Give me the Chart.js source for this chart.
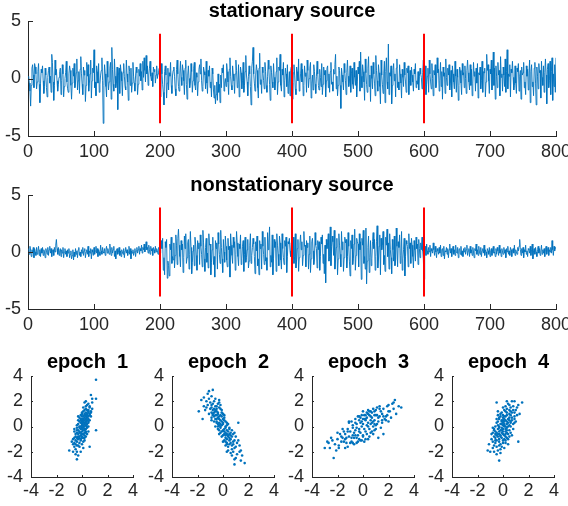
<!DOCTYPE html>
<html>
<head>
<meta charset="utf-8">
<script src="https://cdn.jsdelivr.net/npm/chart.js@4.4.1/dist/chart.umd.min.js"></script>
<style>
  html, body { margin: 0; padding: 0; background: #fff; }
  #fig { position: relative; width: 568px; height: 506px; overflow: hidden; background: #fff; }
  #fig canvas { position: absolute; }
</style>
</head>
<body>
<div id="fig">
  <canvas id="cStat" width="568" height="168" style="left:0px;top:0px"></canvas>
  <canvas id="cNon" width="568" height="172" style="left:0px;top:168px"></canvas>
  <canvas id="cE1" width="140" height="166" style="left:0px;top:340px"></canvas>
  <canvas id="cE2" width="140" height="166" style="left:141px;top:340px"></canvas>
  <canvas id="cE3" width="140" height="166" style="left:281px;top:340px"></canvas>
  <canvas id="cE4" width="140" height="166" style="left:421px;top:340px"></canvas>
</div>
<script>
// ---- data -------------------------------------------------------------

const seriesTitles = ['stationary source', 'nonstationary source'];
const epochTitles = ['  epoch  1', '  epoch  2', '  epoch  3', '  epoch  4'];

// sample boundaries between epochs and the vertical extent of their markers
const epochBounds = [200, 400, 600];
const boundSpan = [-3.9, 3.9];

const timeTicks = [0, 800, 100];   // min, max, step
const ampTicks = [-5, 5, 5];
const scatterTicks = [-4, 4, 2];

const stationary = [
  0.2,-0.4,-1.1,-2.4,-0.6,0.9,1.2,0.3,-0.8,1.3,1.0,0.4,-0.9,-0.3,0.6,1.3,-0.5,-2.1,-0.4,0.8,
  0.5,1.1,-0.2,-1.3,-0.7,0.9,0.3,-0.8,-1.6,0.1,0.7,1.0,-0.4,0.2,-1.2,2.1,1.4,-0.3,-1.9,-0.6,
  1.6,0.3,0.8,-0.2,-1.1,-0.5,0.1,0.6,0.9,-1.4,-0.2,1.2,0.4,-1.6,-0.7,0.0,0.5,1.5,-0.3,-0.9,
  -1.2,0.4,1.1,0.7,-0.6,-1.8,-0.4,0.9,0.2,1.3,-0.8,-0.3,0.5,1.7,-1.0,-0.2,0.6,-1.3,0.8,1.9,
  0.4,-0.5,-1.4,1.0,0.3,0.7,-2.0,-0.6,1.4,0.2,1.2,-1.1,-0.4,0.4,1.6,-1.7,-0.2,0.9,0.5,2.5,
  -0.8,-0.3,-1.5,1.1,0.6,-0.4,1.3,-1.2,-0.5,0.3,0.7,1.8,-0.2,-3.9,-0.6,1.2,0.4,-0.7,-1.6,1.5,
  0.1,-1.0,-0.3,0.9,1.4,-1.8,2.7,0.8,-0.5,-1.1,1.7,0.2,-0.8,-0.4,1.0,-2.7,0.3,0.9,-1.3,1.2,
  0.6,-0.2,-1.5,0.5,1.3,0.2,-0.7,-1.0,1.6,0.4,-0.3,-1.9,1.1,0.6,-0.6,0.9,-1.2,-0.4,1.4,0.2,
  -0.4,-1.1,0.3,1.0,0.5,-1.4,-0.5,0.8,0.2,1.3,-0.2,0.6,-1.0,1.5,0.1,1.8,0.7,-0.3,2.0,0.4,
  1.1,-0.6,0.3,0.9,1.5,0.2,-0.2,0.5,-0.7,1.0,0.6,0.8,-0.4,0.3,1.1,0.0,0.4,0.7,0.9,0.2,
  -1.6,1.3,0.4,-0.5,-1.2,-2.3,0.6,1.1,0.3,-1.7,-0.4,0.9,-1.0,0.5,0.2,1.4,-0.6,-1.3,0.3,0.7,
  1.0,0.2,-0.9,-1.5,0.8,1.6,0.4,-0.7,-1.1,0.4,1.5,0.1,-0.6,1.2,0.7,-0.2,-1.4,0.9,1.6,-0.5,
  -1.8,0.3,1.1,0.0,-0.8,-0.4,1.3,0.6,-1.2,-0.2,0.9,1.4,-0.6,-1.0,0.5,0.1,-1.5,-0.3,0.8,1.2,
  0.4,1.7,-0.2,-1.1,-0.7,1.0,0.6,0.3,-0.9,1.5,-0.4,-1.3,0.7,0.2,1.1,-0.8,-0.3,-1.6,0.9,0.4,
  -1.0,-1.7,-0.6,-2.2,-1.4,-0.3,-1.9,0.4,-1.2,-0.5,-2.1,0.3,-0.8,0.9,0.5,1.2,-1.1,-0.4,0.0,-0.7,
  1.3,0.6,-0.3,-1.4,0.8,1.8,0.2,-0.6,-1.0,1.1,0.4,-0.2,-1.3,0.4,1.6,0.7,-0.8,-0.5,1.2,-1.6,
  -0.4,1.0,0.5,-0.9,-0.2,1.4,-1.2,-0.6,0.6,2.0,0.3,-0.3,-1.5,0.2,1.1,0.4,-0.7,-2.3,0.9,1.5,
  2.7,0.4,-0.4,-1.1,0.3,1.2,0.7,-0.8,-1.7,0.9,2.2,-0.5,-0.1,-1.3,1.0,0.5,-0.2,-0.9,1.4,0.6,
  -0.6,-1.2,0.2,1.6,0.8,-0.5,-1.9,1.1,0.5,-0.3,-0.8,1.3,0.1,-1.0,-0.4,0.6,1.8,-1.4,-0.3,1.0,
  0.7,2.1,-0.6,-1.1,0.8,0.3,1.4,-1.6,-0.2,0.9,0.4,-0.7,1.2,-1.3,-0.4,0.6,-1.5,0.7,1.0,-0.4,
  -1.8,0.5,1.2,0.3,-0.9,-1.4,1.0,0.6,-0.2,1.7,-1.1,-0.4,0.4,1.3,-0.3,0.8,-1.5,-0.6,1.1,0.2,
  0.5,-1.2,1.6,0.7,-0.8,0.0,0.9,1.4,-1.7,-0.4,0.3,-1.0,1.2,0.6,-0.5,-1.3,0.2,1.5,0.4,-0.6,
  -1.0,0.8,0.1,-0.7,1.3,-1.4,-0.5,1.0,0.3,0.7,-1.6,-0.2,0.9,1.1,-0.8,0.4,-1.2,0.6,1.4,-0.5,
  -0.3,-1.1,0.8,0.4,1.2,2.1,-0.9,0.2,-1.5,-0.6,1.0,0.7,-0.6,-2.6,0.9,0.3,-0.3,-1.0,1.3,0.5,
  -0.2,-1.4,0.5,1.6,0.2,-0.7,-0.3,1.1,-1.2,0.4,0.9,-0.5,-0.9,1.4,0.1,-0.6,0.7,-1.6,-0.3,1.0,
  0.4,1.5,-1.1,2.3,0.2,-0.8,1.2,0.6,-0.3,-1.9,1.7,0.5,-0.5,-1.2,0.9,1.9,-0.7,0.3,-2.0,1.1,
  0.0,-0.9,1.4,0.4,-0.4,-1.5,2.0,0.7,-0.2,-1.1,1.2,0.5,-0.7,-2.2,1.6,0.3,-0.5,-1.3,0.4,1.5,
  -2.1,0.6,1.8,-0.3,-0.9,3.0,-1.4,0.5,0.2,1.1,-2.2,-0.6,0.7,1.3,-0.2,0.4,-1.6,0.9,1.7,-0.8,
  -0.3,-1.0,1.2,0.4,-0.4,-1.7,0.8,0.1,-0.7,1.4,0.3,-0.3,-1.2,0.9,0.5,1.1,-1.4,-0.2,0.7,-0.6,
  1.0,0.3,-0.3,-1.1,0.8,0.4,1.3,-0.8,-0.2,-0.5,0.6,-1.0,0.2,0.9,0.4,0.1,-0.9,0.5,1.6,0.3,
  -0.6,1.1,-1.4,-0.5,0.2,0.9,-1.2,1.6,0.4,-0.3,-0.9,1.3,0.0,-1.5,0.7,0.3,1.2,-0.8,-0.4,1.8,
  0.5,0.8,-1.1,-0.2,1.4,-0.7,0.6,-1.8,1.0,0.2,0.5,-1.3,1.7,0.1,-0.6,0.9,0.3,1.2,-1.0,-0.4,
  0.7,-1.6,1.1,0.4,-0.3,-0.9,1.5,0.2,-1.2,0.8,0.1,-1.9,-0.6,1.0,0.7,-0.4,-1.4,1.3,0.3,0.5,
  -0.8,1.1,0.0,-1.3,0.7,1.6,0.5,-0.3,-1.0,1.2,-0.6,0.8,-1.5,-0.4,1.4,0.2,0.6,-1.1,0.9,-0.4,
  1.3,-1.7,0.5,0.3,1.0,-0.9,-0.2,1.5,-1.2,0.6,0.5,0.9,-1.6,-0.3,2.1,0.7,1.2,-0.2,-1.3,0.8,
  0.4,1.6,-1.0,0.5,2.3,-0.6,0.9,-1.8,1.1,0.2,-0.8,1.4,0.3,0.7,-1.5,1.9,0.1,0.4,-1.1,1.0,
  0.3,-0.7,1.7,-1.2,0.6,2.5,-0.9,0.4,0.2,1.2,-1.6,0.8,0.5,1.5,0.1,-1.0,-0.6,1.1,-0.4,-1.3,
  0.9,0.6,1.3,-1.1,0.2,0.7,-1.8,1.0,0.3,0.5,1.4,-0.8,-0.3,-1.4,1.1,0.2,0.8,-1.0,0.4,1.6,
  -2.1,0.6,1.2,-0.7,-0.3,-1.5,0.9,1.4,-0.4,-2.3,1.0,0.2,-0.9,1.3,0.5,0.7,-1.7,1.5,0.1,-0.6,
  1.1,-1.2,0.5,1.7,0.3,-2.2,0.8,1.3,-0.8,-0.2,1.5,-1.4,0.6,1.8,-1.9,0.4,-0.7,1.2,-1.2,1.8
];

const nonstationary = [
  0.3,-0.2,0.5,0.1,-0.4,0.2,-0.1,0.4,-0.5,0.3,0.0,-0.3,0.4,-0.2,0.1,0.5,-0.3,0.2,-0.4,0.3,
  -0.1,0.4,-0.3,0.2,0.0,-0.5,0.3,0.1,-0.2,0.4,-0.3,0.2,0.5,-0.1,0.3,-0.4,0.1,0.2,-0.3,0.4,
  0.0,0.6,1.1,0.3,-0.2,0.4,-0.3,0.1,0.3,-0.4,0.2,-0.1,0.4,-0.5,0.0,0.3,-0.2,0.1,-0.4,0.2,
  -0.1,0.3,-0.5,-0.2,0.1,-0.6,-0.3,0.2,-0.7,0.0,-0.4,0.3,-0.2,0.1,-0.5,0.2,0.4,-0.3,0.0,-0.4,
  0.2,-0.1,0.4,-0.3,0.1,0.3,-0.5,0.0,0.2,-0.2,0.5,-0.4,0.1,-0.1,0.3,-0.6,0.2,0.0,-0.3,0.4,
  -0.2,0.1,0.5,-0.1,0.3,-0.4,0.2,0.0,-0.3,0.6,0.1,-0.2,0.4,0.0,-0.1,0.3,-0.3,0.2,0.5,-0.1,
  0.3,0.0,-0.2,0.7,0.1,-0.3,0.4,-0.1,0.2,0.5,-0.4,0.1,-0.6,0.2,0.3,-0.2,0.0,0.4,-0.3,0.1,
  -0.4,0.2,0.0,-0.2,0.3,-0.5,0.1,0.4,-0.1,0.2,-0.3,0.0,0.5,-0.2,0.3,-0.6,0.1,-0.1,0.2,-0.3,
  0.0,0.3,-0.4,0.1,0.4,-0.1,0.2,0.5,-0.2,0.3,0.1,0.6,-0.1,0.4,0.2,0.7,0.0,0.3,0.9,0.2,
  0.4,-0.1,0.6,0.2,-0.2,0.5,0.1,0.3,-0.3,0.4,0.2,-0.1,0.5,0.0,0.3,0.1,-0.2,0.4,0.2,-0.1,
  0.4,1.0,0.3,1.2,-1.6,-0.5,-2.0,0.9,0.4,1.1,-2.3,-0.8,-1.2,-2.1,0.7,0.2,1.3,-1.0,-0.4,-0.7,
  0.8,-1.4,-0.3,1.5,0.6,-1.1,1.2,2.0,0.6,-0.4,-1.3,1.0,0.2,0.7,-1.8,-0.5,1.4,0.3,1.6,-1.0,
  -0.5,0.8,1.1,-1.5,-0.2,1.8,0.4,-1.9,-0.9,0.1,0.6,-1.2,1.3,0.7,-0.3,-1.6,1.0,0.3,0.8,-1.1,
  1.5,0.5,-0.2,-1.3,1.9,0.8,-0.6,-1.7,0.4,1.2,-0.9,-0.1,-1.4,1.6,0.6,0.7,-2.0,-0.9,0.2,1.3,
  -1.1,-0.4,-2.2,1.0,0.3,0.8,-1.5,1.7,0.7,-0.2,-1.0,1.9,0.4,-0.6,-1.8,1.1,0.0,-0.9,1.4,0.5,
  -0.7,-1.3,1.2,0.2,0.5,-2.2,1.6,0.6,-0.3,-1.0,1.3,0.4,0.9,-1.6,-0.2,1.8,0.8,-0.4,-1.2,0.7,
  0.3,1.5,-1.1,-0.6,0.5,1.0,-1.7,-0.2,1.3,-0.9,-0.5,0.2,1.1,-1.4,-0.8,0.6,1.6,-1.0,-0.3,0.4,
  1.2,0.7,-0.4,-1.9,0.9,0.1,1.4,-1.2,-0.6,-2.0,1.0,0.3,0.7,-1.5,1.8,0.5,-0.2,-1.1,1.3,-0.8,
  -0.5,-1.6,1.7,0.2,0.8,2.2,-1.3,-0.3,-0.9,1.5,-2.0,-0.6,1.1,0.4,0.9,-1.7,1.6,0.6,-0.2,-1.2,
  1.4,0.8,-0.7,-1.5,1.6,0.3,-0.5,-1.1,1.0,0.5,1.3,-1.8,-0.4,0.9,0.7,1.2,0.1,-0.4,0.8,0.3,
  -0.6,1.3,-1.0,-0.4,1.6,-1.4,-0.7,0.3,1.1,-1.7,-0.5,0.8,1.5,0.2,0.9,-1.2,-0.3,1.8,0.5,0.6,
  -1.3,1.0,0.4,0.8,-1.5,-0.2,1.4,-1.8,-0.6,0.9,1.2,0.1,-1.1,-0.7,1.7,0.6,0.3,-1.4,1.0,0.2,
  0.9,-1.6,-0.4,1.3,0.7,1.5,-1.0,-0.2,-1.9,0.6,-2.7,1.1,0.3,0.8,1.6,-0.8,-0.4,2.2,-1.2,0.5,
  1.4,0.9,-0.3,1.9,-1.5,-0.7,0.4,1.2,-2.0,-0.6,1.6,0.6,-0.2,-1.3,1.8,0.2,0.9,-1.7,-0.5,1.3,
  0.8,1.1,-1.4,-0.4,1.7,0.5,-0.8,-2.1,1.0,0.3,1.5,-1.1,-0.6,0.7,2.0,-1.6,-0.3,1.2,0.9,0.7,
  -1.3,1.6,0.2,0.9,-2.4,1.2,0.6,1.9,-1.0,-0.4,-1.5,2.1,-2.8,-0.8,0.4,1.4,-1.8,-0.5,1.0,-1.2,
  -0.6,0.9,1.7,0.3,1.1,-1.6,-0.4,0.9,2.3,-1.4,-0.7,0.5,1.5,-2.0,1.2,0.2,0.6,1.8,-1.1,-0.3,
  -1.7,1.3,0.6,2.0,-0.4,0.8,-1.5,1.6,0.2,-0.5,-1.9,1.1,0.2,-0.8,1.4,-1.2,-0.7,2.1,0.5,-1.3,
  0.9,0.4,1.5,-1.0,-0.3,1.8,-1.6,-0.6,0.2,1.2,-2.1,-0.4,1.0,0.7,0.5,-1.3,1.6,0.3,0.8,-1.0,
  1.2,0.6,-0.4,-1.4,1.0,0.2,-0.8,1.3,0.3,0.7,-1.1,1.1,0.3,-0.5,0.8,0.2,1.3,0.1,-0.6,-2.4,
  0.2,0.5,-0.3,0.7,0.1,-0.2,0.4,0.0,0.6,-0.4,0.3,0.1,-0.1,0.8,0.2,-0.3,0.5,0.0,-0.5,0.3,
  0.1,-0.2,0.4,-0.1,0.6,-0.4,0.2,0.3,-0.3,0.5,-0.6,0.1,0.0,0.4,-0.2,0.3,-0.5,0.2,0.7,-0.1,
  0.3,-0.4,0.1,0.5,-0.2,0.2,-0.3,0.6,0.0,-0.1,0.4,-0.5,0.2,0.3,-0.2,0.5,-0.3,0.1,-0.4,0.3,
  0.0,0.4,-0.2,0.2,0.6,-0.3,0.1,0.3,-0.4,0.5,-0.1,0.2,-0.3,0.4,0.0,-0.5,0.3,0.1,0.7,-0.2,
  0.2,-0.3,0.5,0.0,-0.2,0.4,-0.4,0.1,0.3,-0.1,0.6,-0.3,0.2,0.0,-0.5,0.3,0.1,-0.2,0.4,-0.4,
  0.1,0.3,-0.3,0.2,0.5,-0.1,0.0,-0.4,0.3,-0.2,0.4,0.1,-0.3,0.6,-0.1,0.2,-0.4,0.3,0.0,-0.2,
  0.4,-0.1,0.2,-0.5,0.3,0.0,0.5,-0.2,0.1,-0.3,0.4,0.2,-0.4,0.1,0.3,-0.1,0.6,-0.3,0.2,0.0,
  -0.2,0.4,0.1,0.5,1.1,0.2,-0.3,0.3,-0.1,0.4,-0.5,0.2,0.0,0.6,-0.2,0.1,-0.4,0.3,0.2,-0.1,
  0.5,-0.3,0.2,0.7,-0.6,0.1,0.3,-0.2,0.4,0.0,-0.4,0.2,0.5,-0.1,0.3,-0.3,0.1,0.6,-0.2,0.2,
  -0.1,0.3,-0.4,0.2,0.5,-0.2,0.1,0.4,-0.3,0.2,0.0,0.4,-0.1,1.0,0.2,-0.3,0.5,0.1,0.4,0.3
];

// observed pairs within each epoch
const epoch1 = [
  [0.1,0.3],[-0.2,-0.5],[0.3,0.9],[0.0,0.1],[-0.4,-1.2],[0.5,1.1],[0.2,-0.3],[-0.1,0.6],[0.4,0.2],[-0.3,-0.8],
  [0.6,1.5],[0.1,-0.9],[-0.5,-0.6],[0.2,1.0],[-0.1,-0.2],[0.3,0.4],[0.0,-1.4],[0.7,2.5],[-0.6,-1.6],[0.2,0.7],
  [1.1,3.7],[0.8,2.2],[-0.2,0.4],[0.4,1.3],[-0.4,-2.0],[0.1,0.0],[0.3,-0.5],[-0.3,0.2],[0.5,0.6],[-0.7,-1.0],
  [0.0,0.8],[0.2,-1.1],[-0.1,-0.7],[0.6,0.9],[-0.5,-1.8],[0.3,1.6],[0.1,0.5],[-0.2,-1.3],[0.4,-0.1],[0.0,-0.4],
  [-0.8,-1.2],[0.2,1.9],[0.5,0.3],[-0.3,-0.3],[0.1,1.2],[-0.4,-2.6],[0.3,0.1],[0.0,0.4],[-0.1,-1.0],[0.7,1.2],
  [1.1,2.2],[-1.0,-1.9],[1.1,-0.3],[0.4,0.7],[-0.2,-0.1],[0.2,0.2],[-0.6,-0.4],[0.1,-0.6],[0.5,1.8],[-0.3,-1.5],
  [0.0,1.1],[0.3,-0.8],[-0.4,0.1],[0.6,0.5],[-0.1,0.9],[0.2,-0.2],[-0.5,-1.1],[0.4,1.0],[0.0,-0.9],[-0.2,0.0],
  [0.8,1.4],[-0.3,-2.3],[0.1,0.6],[0.3,1.4],[-0.6,-0.9],[0.2,-0.7],[-0.1,0.3],[0.5,-0.4],[0.0,0.2],[-0.4,-0.5],
  [0.3,2.0],[0.1,-1.7],[-0.2,0.7],[0.6,1.0],[-0.7,-1.4],[0.2,0.0],[0.0,-0.1],[0.4,0.5],[-0.3,0.5],[0.1,1.5],
  [-0.5,-2.2],[0.3,-0.2],[0.5,1.3],[-0.1,-0.5],[0.2,0.9],[-0.4,-0.9],[0.0,0.6],[0.7,0.8],[-0.2,-1.6],[0.1,-0.3],
  [0.4,1.7],[-0.3,-0.6],[0.2,0.3],[0.6,-1.6],[-0.6,-0.2],[0.0,-0.6],[0.3,0.8],[-0.1,0.0],[0.5,0.0],[-0.4,-1.5],
  [0.2,1.3],[0.1,-1.2],[-0.2,-0.9],[0.4,-0.6],[0.0,1.0],[-0.5,-0.8],[0.3,0.3],[0.8,1.9],[-0.3,-1.0],[0.1,0.1],
  [-0.1,-2.0],[0.2,-0.9],[0.5,0.8],[-0.6,-1.3],[0.0,0.3],[0.3,1.1],[-0.2,-0.4],[0.4,0.0],[0.1,0.8],[-0.4,-0.1],
  [0.6,1.6],[-0.1,-1.1],[0.2,0.5],[-0.3,0.8],[0.0,-0.2],[0.5,0.4],[-0.7,-2.0],[0.3,-0.4],[0.1,0.4],[-0.2,-0.8],
  [0.4,0.9],[0.0,-0.8],[-0.4,-0.3],[0.7,1.1],[0.2,-0.5],[-0.1,0.5],[0.3,0.6],[-0.5,-1.4],[0.1,-0.1],[0.5,1.2]
];

const epoch2 = [
  [-0.3,0.6],[0.1,-0.2],[-0.6,1.2],[0.4,-0.8],[-0.2,0.9],[0.0,0.3],[-0.9,1.5],[0.6,-1.0],[-0.4,0.2],[0.2,-0.5],
  [-1.9,1.2],[-0.8,2.9],[-1.1,2.8],[-1.5,2.3],[-1.7,2.1],[0.9,-3.0],[1.7,-2.9],[1.5,-2.3],[1.4,-1.9],[-1.6,0.6],
  [1.2,0.3],[-0.5,1.4],[0.3,0.1],[-0.1,-0.4],[0.7,-1.5],[-0.7,0.8],[0.2,0.4],[-0.3,1.9],[0.5,-0.2],[-1.2,1.7],
  [0.0,-0.7],[-0.4,1.1],[0.8,-1.2],[-0.2,0.0],[-0.9,0.7],[0.4,-1.9],[-0.6,2.2],[0.1,0.7],[1.0,-0.8],[-0.3,-0.3],
  [-1.3,2.0],[0.6,-0.5],[-0.1,1.3],[0.3,-1.3],[-0.8,1.0],[0.9,-1.7],[-0.5,0.4],[0.2,-0.9],[-1.0,1.9],[0.5,-1.4],
  [-0.2,0.5],[0.0,1.0],[-0.7,1.4],[0.7,-0.3],[-0.4,-0.2],[1.1,-2.2],[-1.4,1.3],[0.3,-0.6],[-0.6,0.6],[0.1,-1.1],
  [-0.3,1.5],[0.8,-0.6],[-0.9,2.4],[0.4,0.2],[-0.1,-0.8],[-0.5,0.9],[1.3,-1.5],[-0.2,1.7],[0.2,-0.1],[-1.1,1.0],
  [0.6,-2.1],[-0.4,0.7],[0.0,0.2],[-0.8,1.8],[0.5,-0.9],[-0.3,0.3],[0.9,-1.1],[-0.6,1.6],[0.3,-0.3],[-1.2,2.6],
  [0.1,0.5],[-0.2,-0.5],[0.7,-1.8],[-0.5,1.2],[1.0,-2.5],[-0.7,0.4],[0.2,-1.5],[-0.1,0.8],[0.4,-0.4],[-0.9,1.1],
  [0.6,-1.3],[-0.4,1.8],[0.0,-0.3],[-1.5,1.6],[0.8,-2.0],[-0.2,0.2],[0.3,-1.0],[-0.6,0.0],[1.2,-1.1],[-0.3,2.1],
  [0.1,-0.6],[-0.8,0.9],[0.5,-0.1],[-0.1,1.1],[0.9,-2.6],[-0.5,0.6],[0.2,0.0],[-1.0,1.4],[0.4,-1.6],[-0.3,0.8],
  [0.7,-0.8],[-0.7,2.0],[0.0,0.6],[0.3,-2.0],[-0.4,0.0],[1.1,-1.3],[-0.9,0.5],[0.2,-0.7],[-0.2,1.4],[0.5,-1.1],
  [-1.3,1.5],[0.6,-0.7],[-0.1,0.4],[-0.6,1.3],[1.4,-2.7],[0.1,-0.4],[-0.5,1.6],[0.8,-1.4],[-0.3,0.1],[0.0,-1.2],
  [-0.8,1.3],[0.4,-0.7],[-1.1,2.2],[0.3,0.3],[-0.2,-0.1],[0.7,-2.3],[-0.4,1.0],[0.9,-0.5],[-0.7,1.1],[0.2,-1.2],
  [-0.5,0.3],[1.0,-1.6],[-0.1,0.1],[-0.9,1.7],[0.5,-0.6],[0.1,0.9],[-0.3,-0.6],[1.3,-2.0],[-0.6,0.9],[0.3,-1.4]
];

const epoch3 = [
  [0.2,0.6],[-0.5,-0.9],[1.0,0.1],[-1.2,-0.2],[0.6,1.2],[-0.3,0.5],[1.5,0.3],[-0.8,-1.3],[0.0,-0.7],[2.0,1.2],
  [-2.3,-2.5],[2.5,2.1],[3.0,1.5],[-3.0,-1.7],[-2.8,-1.2],[-2.5,-0.9],[2.4,1.4],[1.6,-0.6],[1.2,-0.9],[2.0,1.7],
  [-1.5,-0.4],[0.4,1.0],[-0.1,-1.1],[0.9,0.2],[-0.6,0.6],[1.3,1.4],[-1.9,-1.5],[0.3,-0.6],[0.7,1.1],[-0.4,-1.2],
  [1.8,0.5],[-1.1,0.3],[0.1,0.9],[-0.7,-0.9],[1.1,1.5],[-2.0,-0.5],[0.5,-0.8],[-0.2,0.7],[2.2,0.7],[-1.4,-1.7],
  [0.8,0.0],[-0.9,0.4],[0.0,1.2],[1.4,-0.1],[-1.7,-1.2],[0.6,-0.5],[-0.3,-1.0],[1.9,1.6],[-1.2,-1.6],[0.2,0.5],
  [-0.6,-0.3],[1.0,1.3],[-2.2,-1.4],[0.4,-1.0],[-0.1,0.4],[1.6,1.4],[-0.8,-0.1],[0.9,0.9],[-1.6,-0.2],[0.3,1.1],
  [2.6,1.0],[-0.5,-1.3],[0.7,-0.4],[-1.3,-0.9],[0.1,-0.2],[1.2,0.7],[-2.6,-1.7],[0.5,1.2],[-0.2,-0.5],[1.7,0.6],
  [-1.0,-1.3],[0.0,0.2],[0.8,1.4],[-0.4,0.8],[2.1,1.2],[-1.8,-0.6],[0.6,0.5],[-0.7,-1.4],[1.3,0.8],[-0.1,0.9],
  [-1.4,-0.6],[0.9,-0.3],[0.2,-1.0],[2.3,1.8],[-0.9,-0.9],[0.4,0.3],[-2.1,-1.9],[1.1,0.2],[-0.3,-0.2],[0.7,0.7],
  [-1.1,-0.8],[1.5,1.0],[0.0,-0.8],[-0.6,0.3],[2.8,1.6],[-1.5,-1.2],[0.3,0.7],[-0.8,0.1],[1.0,-0.2],[-2.4,-1.1],
  [0.5,0.9],[-0.2,-1.1],[1.4,1.2],[-1.2,-0.4],[0.1,0.6],[0.8,-0.6],[-0.5,0.2],[1.8,0.8],[-1.7,-0.8],[0.6,0.8],
  [-0.3,0.8],[1.2,0.4],[-1.9,-1.7],[0.2,-0.4],[0.9,1.2],[-0.7,-0.5],[2.0,0.4],[-1.0,-0.4],[0.4,1.3],[-0.1,0.0],
  [1.6,0.8],[-2.7,-1.3],[0.7,0.3],[-0.4,-0.7],[1.1,0.9],[-1.3,-1.3],[0.0,0.6],[2.4,1.9],[-0.9,-1.2],[0.5,-0.2],
  [-1.6,-0.9],[0.3,0.1],[1.3,1.6],[-0.6,-0.7],[0.8,0.4],[-1.1,0.4],[0.1,-1.2],[1.9,0.9],[-0.2,0.3],[-2.0,-1.0],
  [0.6,0.2],[-0.5,-0.1],[1.0,0.9],[-1.4,-1.0],[0.2,0.9],[0.9,0.5],[-0.8,-0.7],[1.5,0.5],[-0.3,-0.4],[0.4,0.0]
];

const epoch4 = [
  [0.1,0.2],[-0.3,-0.6],[0.5,1.0],[-0.1,0.4],[0.2,-0.8],[-0.5,-1.1],[0.6,0.3],[0.0,-0.2],[0.3,1.4],[-0.4,0.1],
  [1.5,1.9],[-0.3,-2.7],[-1.2,-1.9],[-1.0,-2.0],[0.7,2.0],[0.9,2.0],[0.3,2.0],[1.2,-1.2],[-0.5,1.9],[1.0,1.3],
  [-0.2,-1.4],[0.4,0.6],[-0.6,-0.4],[0.1,-1.0],[0.8,1.6],[-0.3,0.7],[0.2,0.0],[-0.7,-1.5],[0.5,-0.3],[0.0,0.9],
  [-0.4,-0.8],[0.6,1.2],[-0.1,-0.5],[0.3,0.4],[-0.8,-0.1],[0.9,0.8],[0.1,-1.7],[-0.2,0.2],[0.4,-0.6],[-0.5,-2.2],
  [0.7,0.5],[-0.1,1.1],[0.2,-0.4],[-0.6,-0.9],[1.1,1.5],[0.0,0.3],[-0.3,-1.2],[0.5,0.1],[-0.9,-0.6],[0.3,-0.9],
  [0.0,1.5],[-0.4,0.4],[0.8,0.2],[-0.2,-0.7],[0.2,0.8],[-0.7,-0.3],[0.6,-0.5],[0.1,0.6],[-0.5,-1.6],[1.3,1.0],
  [-0.1,-0.1],[0.4,1.8],[-0.3,-0.4],[0.2,-1.3],[-0.8,-1.2],[0.9,0.6],[0.0,-0.6],[-0.2,1.0],[0.5,0.7],[-0.6,0.0],
  [0.3,-0.1],[-0.4,-1.9],[0.7,1.1],[0.1,0.1],[-0.1,-0.9],[0.6,0.9],[-1.1,-1.4],[0.2,0.5],[-0.3,0.0],[0.4,-1.0],
  [0.0,0.7],[-0.5,-0.5],[1.0,0.4],[-0.2,-2.1],[0.3,1.1],[-0.7,-0.8],[0.5,-0.8],[0.1,0.0],[-0.4,1.2],[0.8,1.3],
  [-0.1,0.5],[0.2,-0.2],[-0.6,-1.3],[0.4,0.3],[-0.2,-0.3],[1.2,1.7],[0.0,-1.1],[-0.3,0.6],[0.6,0.0],[-0.8,-0.5],
  [0.1,1.3],[-0.4,-0.2],[0.3,-0.5],[-0.1,-1.6],[0.7,0.7],[-0.5,0.3],[0.2,1.6],[-0.9,-1.0],[0.5,0.5],[0.0,-0.4],
  [-0.2,0.8],[0.4,-1.4],[-0.6,-0.6],[0.9,1.1],[0.1,-0.7],[-0.3,-1.0],[0.6,1.5],[-0.1,0.2],[0.3,0.2],[-0.7,-2.0],
  [0.2,-0.6],[-0.4,0.9],[0.8,-0.2],[0.0,0.1],[-0.2,-1.8],[0.5,1.3],[-0.5,-0.7],[0.1,0.8],[1.1,0.9],[-0.3,-0.1],
  [0.4,0.0],[-0.8,-1.7],[0.2,1.2],[-0.1,-0.3],[0.7,-0.7],[-0.6,-1.1],[0.3,0.9],[0.0,-1.3],[-0.4,-0.6],[0.6,0.4],
  [-0.2,-0.8],[0.1,0.4],[0.5,1.7],[-0.5,0.6],[0.3,-0.3],[-0.3,-1.5],[0.9,0.3],[0.0,0.5],[-0.7,-0.2],[0.2,-1.1]
];

// ---- styling & helpers ------------------------------------------------

const BLUE = '#0072BD';
const RED = '#FF0000';
const AXIS = '#262626';
Chart.defaults.font.family = "'Liberation Sans', Arial, Helvetica, sans-serif";
Chart.defaults.color = AXIS;

// MATLAB-style tick marks pointing into the plot area
const inwardTicks = {
  id: 'inwardTicks',
  afterDatasetsDraw(chart, args, opts) {
    const xs = chart.scales.x, ys = chart.scales.y, ctx = chart.ctx;
    const len = opts.length;
    ctx.save();
    ctx.strokeStyle = AXIS;
    ctx.lineWidth = 1;
    ctx.beginPath();
    xs.ticks.forEach(t => {
      const px = Math.round(xs.getPixelForValue(t.value)) + 0.5;
      ctx.moveTo(px, ys.bottom);
      ctx.lineTo(px, ys.bottom - len);
    });
    ys.ticks.forEach(t => {
      const py = Math.round(ys.getPixelForValue(t.value)) + 0.5;
      ctx.moveTo(xs.left, py);
      ctx.lineTo(xs.left + len, py);
    });
    ctx.stroke();
    ctx.restore();
  }
};

// linear axis with a fixed thickness so every plot area lands in place
function axis(range, thickness, pad) {
  return {
    type: 'linear',
    min: range[0], max: range[1],
    ticks: { stepSize: range[2], font: { size: 18 }, color: AXIS, padding: pad, maxRotation: 0, autoSkip: false },
    grid: { display: false, drawTicks: false },
    border: { display: true, color: AXIS, width: 1 },
    afterFit(s) {
      if (s.isHorizontal()) s.height = thickness; else s.width = thickness;
      s.paddingLeft = s.paddingRight = s.paddingTop = s.paddingBottom = 0;
    }
  };
}

function titleOpts(text, top, bottom) {
  return {
    display: true, text, fullSize: false, color: '#000',
    font: { size: 20, weight: 'bold', lineHeight: 1 },
    padding: { top, bottom }
  };
}

function timeSeriesChart(id, values, title, padTop, xHeight) {
  const bounds = epochBounds.map(b => ({
    data: [{ x: b, y: boundSpan[0] }, { x: b, y: boundSpan[1] }],
    borderColor: RED, borderWidth: 2, pointRadius: 0, order: 0
  }));
  new Chart(document.getElementById(id), {
    type: 'line',
    data: {
      datasets: [
        { data: values.map((v, i) => ({ x: i + 1, y: v })), borderColor: BLUE, borderWidth: 0.9,
          pointRadius: 0, tension: 0, order: 1 },
        ...bounds
      ]
    },
    options: {
      responsive: false, animation: false, events: [],
      layout: { padding: { top: padTop, left: 0, right: 12, bottom: 0 } },
      plugins: {
        legend: { display: false }, tooltip: { enabled: false },
        title: titleOpts(title, 1, 0),
        inwardTicks: { length: 5 }
      },
      scales: { x: axis(timeTicks, xHeight, 5), y: axis(ampTicks, 28, 7) }
    },
    plugins: [inwardTicks]
  });
}

function epochChart(id, points, title) {
  new Chart(document.getElementById(id), {
    type: 'scatter',
    data: {
      datasets: [{ data: points.map(p => ({ x: p[0], y: p[1] })), backgroundColor: BLUE,
        borderWidth: 0, pointRadius: 1.3 }]
    },
    options: {
      responsive: false, animation: false, events: [],
      layout: { padding: { top: 10, left: 0, right: 7, bottom: 0 } },
      plugins: {
        legend: { display: false }, tooltip: { enabled: false },
        title: titleOpts(title, 2, 4),
        inwardTicks: { length: 2 }
      },
      scales: { x: axis(scatterTicks, 29, 3), y: axis(scatterTicks, 31, 8) }
    },
    plugins: [inwardTicks]
  });
}

timeSeriesChart('cStat', stationary, seriesTitles[0], 0, 32);
timeSeriesChart('cNon', nonstationary, seriesTitles[1], 6, 31);
[epoch1, epoch2, epoch3, epoch4].forEach((pts, k) => epochChart('cE' + (k + 1), pts, epochTitles[k]));
</script>
</body>
</html>
